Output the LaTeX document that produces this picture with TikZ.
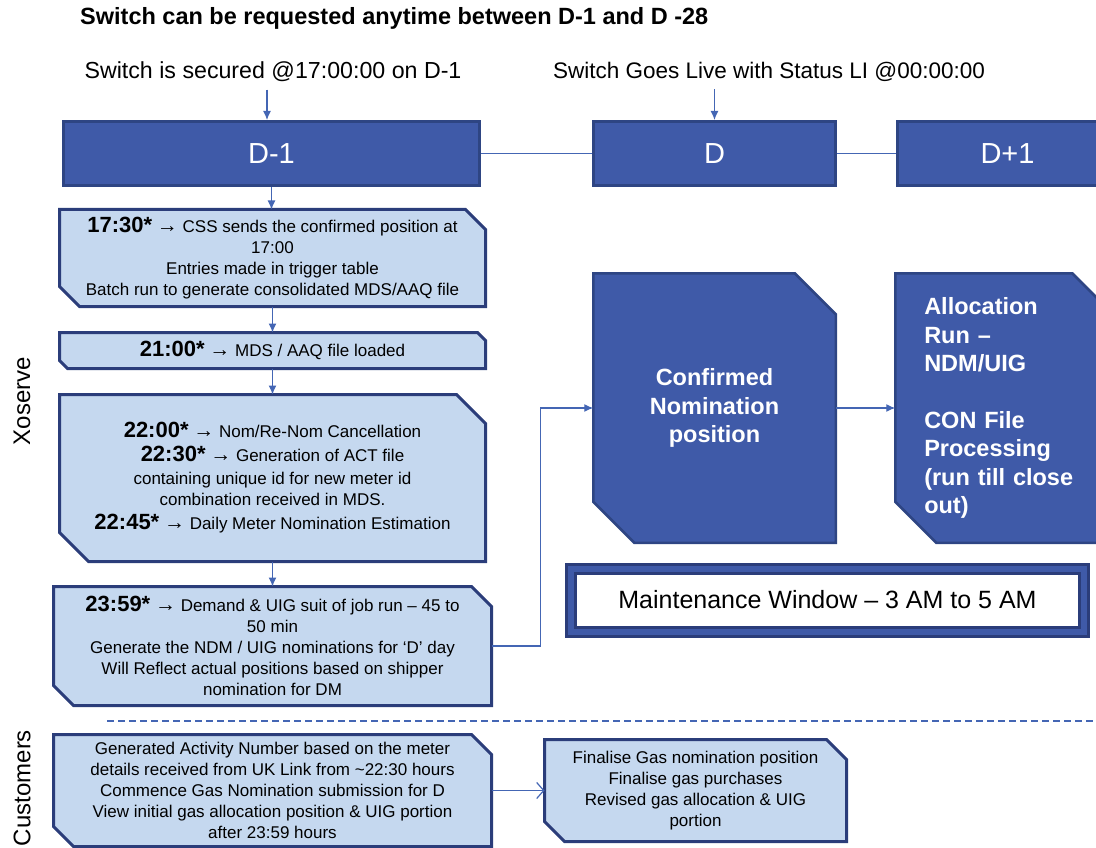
\documentclass[tikz,border=0pt]{standalone}
\usepackage{fontspec}
\setmainfont{Liberation Sans}
\usetikzlibrary{positioning, arrows.meta, backgrounds}

\definecolor{dayblue}{HTML}{3F5AA8}
\definecolor{dayedge}{HTML}{2E4583}
\definecolor{jobfill}{HTML}{C5D8EF}
\definecolor{jobedge}{HTML}{2B3D7A}
\definecolor{linkblue}{HTML}{4466B4}

\newcommand{\fsz}[2]{\fontsize{#1}{#2}\selectfont}
\newcommand{\jobtime}[1]{{\fsz{22}{22}\bfseries #1}}
\newcommand{\jobto}{{\fsz{21}{21}→}}
% frame with the north east and south west corners cut off
\newcommand{\cutbox}[3]{%
  \path[#1] (#2.north west) -- ([xshift=-#3]#2.north east) -- ([yshift=-#3]#2.north east)
    -- (#2.south east) -- ([xshift=#3]#2.south west) -- ([yshift=#3]#2.south west) -- cycle;}

\tikzset{
  daybox/.style={rectangle, draw=dayedge, line width=3pt, fill=dayblue, text=white, minimum height=64pt, font=\fsz{29}{33}},
  jobbox/.style={rectangle, inner sep=0pt, outer sep=0pt, align=center, font=\fsz{17}{21}},
  jobframe/.style={draw=jobedge, line width=3pt, fill=jobfill},
  runbox/.style={rectangle, inner sep=0pt, outer sep=0pt, text=white, align=center, minimum width=242.5pt, minimum height=269.5pt, font=\bfseries\fsz{23.5}{28.5}},
  runframe/.style={draw=dayedge, line width=2.5pt, fill=dayblue},
  link/.style={draw=linkblue, line width=1.2pt},
}

\begin{document}
\begin{tikzpicture}[x=1pt, y=-1pt, >={Latex[length=9pt, width=8pt]}, node distance=26pt]
\useasboundingbox (0,0) rectangle (1096,848);
\clip (0,0) rectangle (1096,848);

% headings
\node[font=\bfseries\fsz{23.5}{26}, anchor=west, inner sep=0pt] (title) at (80,18) {Switch can be requested anytime between D-1 and D -28};
\node[font=\fsz{23.2}{26}] (secured) at (273,72) {Switch is secured @17:00:00 on D-1};
\node[font=\fsz{22.5}{26}] (golive) at (769,72) {Switch Goes Live with Status LI @00:00:00};

% days
\node[daybox, minimum width=416pt] (dminus) at (271.5,153.5) {D-1};
\node[daybox, minimum width=242pt] (dday) at (714.5,153.5) {D};
\node[daybox, minimum width=220pt, right=59pt of dday] (dplus) {D+1};

% Xoserve jobs
\node[jobbox, minimum width=426pt, minimum height=97pt] (job1) at (272.5,258) {\jobtime{17:30*} \jobto{} CSS sends the confirmed position at\\17:00\\Entries made in trigger table\\Batch run to generate consolidated MDS/AAQ file};
\node[jobbox, minimum width=426pt, minimum height=36pt, below=of job1] (job2) {\jobtime{21:00*} \jobto{} MDS / AAQ file loaded};
\node[jobbox, minimum width=426pt, minimum height=167pt, below=of job2] (job3) {\jobtime{22:00*} \jobto{} Nom/Re-Nom Cancellation\\[3pt]
  \jobtime{22:30*} \jobto{} Generation of ACT file\\[2pt]
  containing unique id for new meter id\\
  combination received in MDS.\\[3pt]
  \jobtime{22:45*} \jobto{} Daily Meter Nomination Estimation};
\node[jobbox, minimum width=438pt, minimum height=119pt, below=25pt of job3] (job4) {\jobtime{23:59*} \jobto{} Demand \& UIG suit of job run – 45 to\\50 min\\Generate the NDM / UIG nominations for ‘D’ day\\Will Reflect actual positions based on shipper\\nomination for DM};

\node[runbox] (confirmed) at (714.5,408) {Confirmed\\Nomination\\position};
\node[runbox, minimum width=218pt, text width=160pt, align=left, right=59.5pt of confirmed] (alloc) {Allocation\\Run –\\NDM/UIG\\[28pt]CON File\\Processing\\(run till close\\out)};

\node[draw=jobedge, line width=3pt, double=dayblue, double distance=6pt, fill=white, minimum width=513pt, minimum height=63pt, font=\fsz{25}{28}] (maint) at (827.5,600) {Maintenance Window – 3 AM to 5 AM};

% Customers
\node[jobbox, minimum width=438pt, minimum height=112pt] (cust1) at (272.5,790.5) {Generated Activity Number based on the meter\\details received from UK Link from \textasciitilde22:30 hours\\Commence Gas Nomination submission for D\\View initial gas allocation position \& UIG portion\\after 23:59 hours};
\node[jobbox, minimum width=302pt, minimum height=102pt, right=53pt of cust1] (cust2) {Finalise Gas nomination position\\Finalise gas purchases\\Revised gas allocation \& UIG\\portion};

\begin{scope}[on background layer]
  \cutbox{jobframe}{job1}{20pt}
  \cutbox{jobframe}{job2}{8pt}
  \cutbox{jobframe}{job3}{29pt}
  \cutbox{jobframe}{job4}{20pt}
  \cutbox{jobframe}{cust1}{20pt}
  \cutbox{jobframe}{cust2}{20pt}
  \cutbox{runframe}{confirmed}{41pt}
  \cutbox{runframe}{alloc}{41pt}
\end{scope}

\node[rotate=90, font=\fsz{24}{27}] (xoserve) at (22,401) {Xoserve};
\node[rotate=90, font=\fsz{24}{27}] (customers) at (22,788) {Customers};

\draw[linkblue, line width=1.5pt, dash pattern=on 7pt off 4pt] (107,721) -- (1096,721);

% connectors
\draw[link, ->] ([xshift=-6pt, yshift=-4pt]secured.south) -- ([xshift=-6pt]secured.south |- dminus.north);
\draw[link, ->] ([yshift=-4pt]golive.south -| dday.north) -- (dday.north);
\draw[link] (dminus) -- (dday);
\draw[link] (dday) -- (dplus);
\draw[link, ->] (dminus.south) -- (dminus.south |- job1.north);
\draw[link, ->] (job1) -- (job2);
\draw[link, ->] (job2) -- (job3);
\draw[link, ->] (job3) -- (job4);
\draw[link, ->] (job4.east) -- ++(49,0) |- (confirmed.west);
\draw[link, ->] (confirmed) -- (alloc);
\draw[link, -{Straight Barb[length=7pt, width=16pt]}] (cust1) -- (cust2);

\end{tikzpicture}
\end{document}
